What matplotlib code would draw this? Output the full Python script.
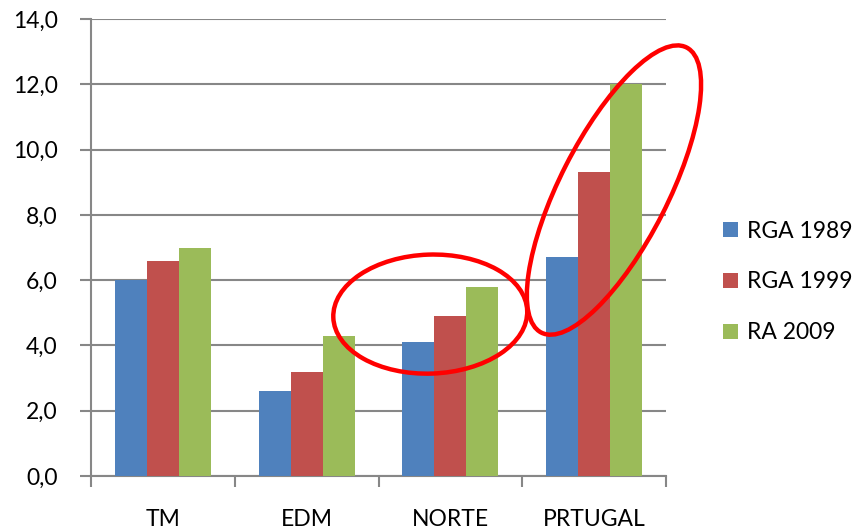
import matplotlib
matplotlib.use("Agg")
import matplotlib.pyplot as plt
import numpy as np
from matplotlib.patches import Ellipse
from matplotlib.transforms import ScaledTranslation

plt.rcParams['font.family'] = ['Lato', 'DejaVu Sans']

categories = ["TM", "EDM", "NORTE", "PRTUGAL"]
series_names = ["RGA 1989", "RGA 1999", "RA 2009"]
rga1989 = [6.0, 2.6, 4.1, 6.7]
rga1999 = [6.6, 3.2, 4.9, 9.3]
ra2009 = [7.0, 4.3, 5.8, 12.0]
yticks = [0, 2, 4, 6, 8, 10, 12, 14]
ytick_labels = ["0,0", "2,0", "4,0", "6,0", "8,0", "10,0", "12,0", "14,0"]

colors = ["#4F81BD", "#C0504D", "#9BBB59"]
grid_col = "#878787"
fs = 16.5

fig = plt.figure(figsize=(8.61, 5.30), dpi=100)
ax = fig.add_axes([91/861, 1 - 476/530, (666-91)/861, (476-19)/530])

x = np.arange(len(categories))
bw = 0.2225
for i, (vals, name) in enumerate(zip([rga1989, rga1999, ra2009], series_names)):
    ax.bar(x + (i - 1) * bw, vals, width=bw, color=colors[i], label=name, zorder=3,
           edgecolor='none')

ax.set_xlim(-0.5, len(categories) - 0.5)
ax.set_ylim(0, 14)
ax.set_yticks(yticks)
ax.set_yticklabels(ytick_labels, fontsize=fs)
ax.yaxis.grid(True, color=grid_col, linewidth=1.5, zorder=0)
ax.set_axisbelow(True)

# category labels centered, boundary ticks
ax.set_xticks(np.arange(-0.5, len(categories)), minor=False)
ax.set_xticklabels([])
ax.set_xticks(x, minor=True)
ax.set_xticklabels(categories, minor=True, fontsize=fs)
ax.tick_params(axis='x', which='major', length=8, width=1.5, color=grid_col, direction='out')
ax.tick_params(axis='x', which='minor', length=0, pad=24)
ax.tick_params(axis='y', length=8, width=1.5, color=grid_col, pad=16)

for s in ['top', 'right']:
    ax.spines[s].set_visible(False)
for s in ['left', 'bottom']:
    ax.spines[s].set_color(grid_col)
    ax.spines[s].set_linewidth(1.5)

# red annotation ellipses (size in inches, center in data coords)
def red_ellipse(xc, yc, w_px, h_px, angle):
    tr = fig.dpi_scale_trans + ScaledTranslation(xc, yc, ax.transData)
    e = Ellipse((0, 0), w_px / 100, h_px / 100, angle=angle, transform=tr,
                fill=False, edgecolor='#FF0000', linewidth=3.2, zorder=5, clip_on=False)
    ax.add_artist(e)

red_ellipse(1.86, 4.96, 194, 119, 2)
red_ellipse(3.138, 8.76, 320, 108, 63)

leg = ax.legend(loc='center left', bbox_to_anchor=((702 - 91) / (666 - 91), 0.5 - (282 - 247.5) / 457),
                frameon=False, fontsize=fs, handlelength=0.65, handleheight=0.65,
                handletextpad=0.4, labelspacing=1.3)

fig.savefig("out.png", dpi=100)
